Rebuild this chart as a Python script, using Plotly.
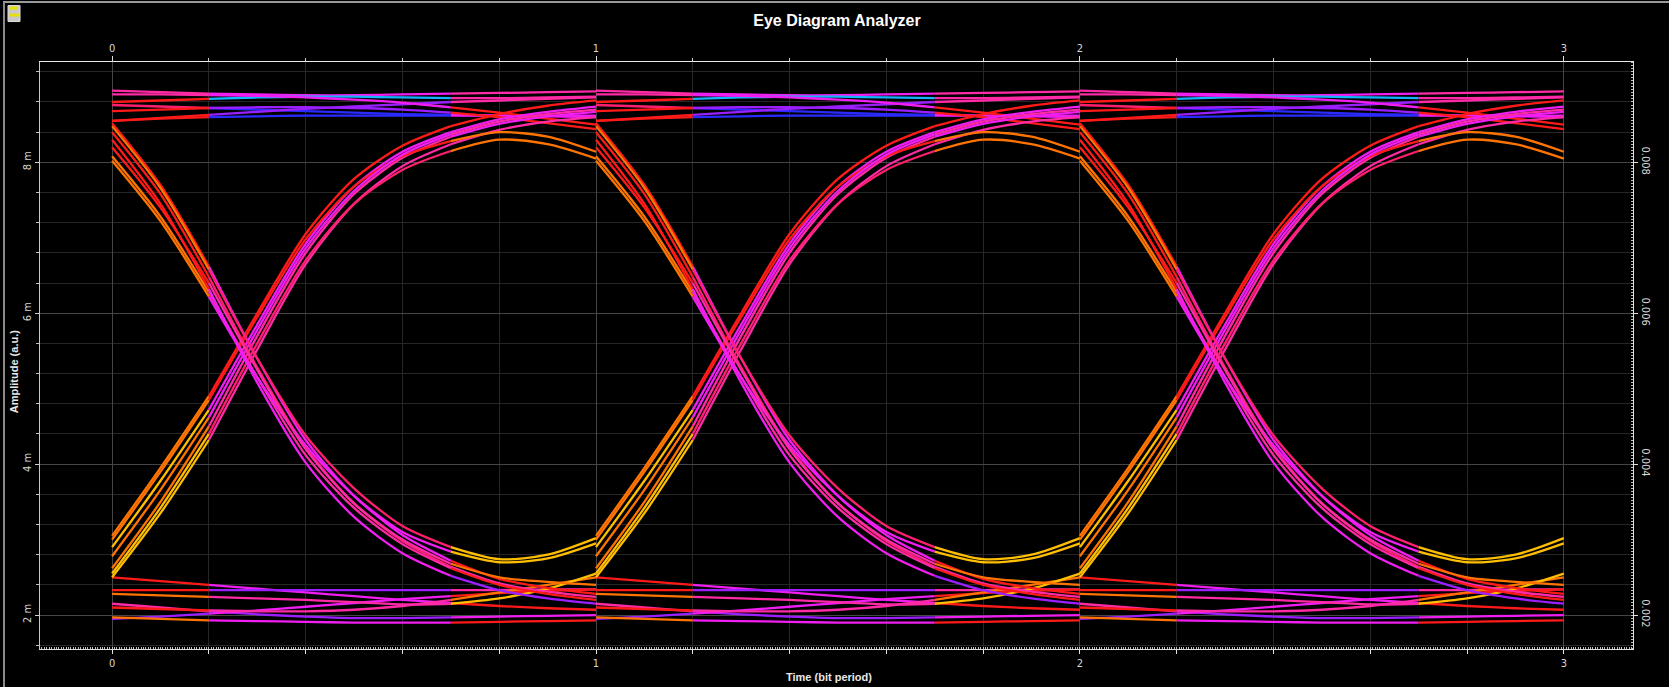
import plotly.graph_objects as go

# ---------------- data ----------------
BIT_STARTS = [0, 1, 2]                       # three bit periods shown
T = [0.0, 0.1, 0.2, 0.3, 0.4, 0.5, 0.6, 0.7, 0.8, 0.9, 1.0]   # sample positions inside one bit period

# amplitude (in "m" units) of each trace family at the sample positions
RISE_1 = [3.05, 3.95, 4.90, 6.00, 7.05, 7.78, 8.22, 8.48, 8.64, 8.75, 8.82]
RISE_2 = [2.90, 3.78, 4.72, 5.85, 6.92, 7.68, 8.14, 8.40, 8.57, 8.67, 8.74]
RISE_3 = [2.62, 3.50, 4.50, 5.70, 6.80, 7.58, 8.06, 8.34, 8.51, 8.61, 8.67]
RISE_4 = [2.50, 3.35, 4.32, 5.52, 6.65, 7.45, 7.95, 8.24, 8.43, 8.54, 8.60]
RISE_5 = [3.00, 3.90, 4.85, 5.95, 6.98, 7.68, 8.08, 8.28, 8.40, 8.34, 8.14]
RISE_6 = [2.55, 3.42, 4.40, 5.60, 6.70, 7.45, 7.90, 8.15, 8.30, 8.24, 8.05]
RISE_7 = [2.78, 3.66, 4.62, 5.78, 6.86, 7.62, 8.10, 8.37, 8.54, 8.64, 8.70]

FALL_1 = [8.52, 7.70, 6.62, 5.40, 4.32, 3.58, 3.06, 2.72, 2.48, 2.36, 2.28]
FALL_2 = [8.40, 7.58, 6.48, 5.28, 4.22, 3.48, 2.98, 2.64, 2.42, 2.31, 2.24]
FALL_3 = [8.08, 7.28, 6.28, 5.15, 4.12, 3.42, 2.94, 2.62, 2.40, 2.28, 2.20]
FALL_4 = [8.48, 7.66, 6.58, 5.40, 4.38, 3.68, 3.18, 2.90, 2.74, 2.80, 3.02]
FALL_5 = [8.02, 7.22, 6.22, 5.15, 4.25, 3.58, 3.10, 2.84, 2.70, 2.75, 2.95]
FALL_6 = [8.30, 7.45, 6.32, 5.08, 4.02, 3.30, 2.82, 2.52, 2.33, 2.22, 2.15]
FALL_7 = [8.20, 7.40, 6.40, 5.25, 4.20, 3.48, 3.00, 2.68, 2.50, 2.44, 2.40]

HIGH_1 = [8.95, 8.93, 8.91, 8.90, 8.89, 8.89, 8.90, 8.91, 8.92, 8.93, 8.94]
HIGH_2 = [8.80, 8.82, 8.84, 8.86, 8.87, 8.87, 8.86, 8.85, 8.85, 8.86, 8.87]
HIGH_3 = [8.76, 8.74, 8.72, 8.70, 8.68, 8.66, 8.64, 8.63, 8.62, 8.61, 8.60]
HIGH_4 = [8.55, 8.59, 8.63, 8.67, 8.71, 8.74, 8.77, 8.80, 8.82, 8.84, 8.86]
HIGH_5 = [8.55, 8.58, 8.60, 8.61, 8.62, 8.62, 8.62, 8.62, 8.62, 8.62, 8.62]
HIGH_6 = [8.90, 8.90, 8.89, 8.88, 8.86, 8.83, 8.79, 8.73, 8.66, 8.58, 8.50]
HIGH_7 = [8.68, 8.70, 8.72, 8.73, 8.73, 8.72, 8.70, 8.66, 8.60, 8.52, 8.44]

LOW_1 = [2.50, 2.45, 2.40, 2.35, 2.30, 2.25, 2.20, 2.16, 2.12, 2.09, 2.07]
LOW_2 = [2.33, 2.33, 2.33, 2.33, 2.33, 2.33, 2.33, 2.33, 2.33, 2.34, 2.34]
LOW_3 = [2.15, 2.10, 2.05, 2.01, 1.98, 1.96, 1.96, 1.97, 1.98, 1.99, 2.00]
LOW_4 = [1.95, 1.98, 2.02, 2.06, 2.11, 2.16, 2.21, 2.25, 2.29, 2.32, 2.34]
LOW_5 = [1.97, 1.95, 1.93, 1.92, 1.91, 1.90, 1.90, 1.90, 1.91, 1.92, 1.93]
LOW_6 = [2.10, 2.08, 2.06, 2.05, 2.05, 2.07, 2.12, 2.20, 2.30, 2.40, 2.50]
LOW_7 = [2.28, 2.26, 2.24, 2.22, 2.20, 2.17, 2.14, 2.15, 2.22, 2.35, 2.55]

X_TICKS = [0, 1, 2, 3]
X_TICK_LABELS = ["0", "1", "2", "3"]
Y_TICKS = [2, 4, 6, 8]
Y_TICK_LABELS = ["2 m", "4 m", "6 m", "8 m"]
Y2_TICK_LABELS = ["0.002", "0.004", "0.006", "0.008"]

# ---------------- styles ----------------
OR, YE, RE, HP, PK, MG, PU, BL, CY = ("#ff7400", "#ffbe00", "#ff1a1a", "#ff1f6e", "#ff2aa6",
                                      "#f01ef0", "#9b1fff", "#2b2bff", "#12b4ff")

curves = [HIGH_1, HIGH_2, HIGH_3, HIGH_4, HIGH_5, HIGH_6, HIGH_7,
          LOW_1, LOW_2, LOW_3, LOW_4, LOW_5, LOW_6, LOW_7,
          RISE_1, RISE_2, RISE_3, RISE_4, RISE_5, RISE_6, RISE_7,
          FALL_1, FALL_2, FALL_3, FALL_4, FALL_5, FALL_6, FALL_7]
# colours for the three pieces of each curve (start, middle, end)
colors = [(PK, MG, PK), (RE, CY, PK), (HP, BL, MG), (RE, PU, PK), (RE, BL, MG), (PK, MG, RE), (RE, PU, RE),
          (RE, MG, RE), (RE, PU, PK), (PK, PU, MG), (PU, MG, RE), (OR, MG, RE), (RE, PK, OR), (OR, PK, YE),
          (OR, RE, RE), (YE, MG, MG), (OR, PK, MG), (YE, PK, PK), (OR, RE, OR), (YE, HP, OR), (OR, MG, PK),
          (RE, MG, RE), (RE, HP, PK), (OR, PK, RE), (OR, HP, YE), (OR, MG, YE), (RE, MG, PU), (RE, PK, OR)]
PIECES = [(0, 3), (2, 8), (7, 11)]

fig = go.Figure()
for k in BIT_STARTS:
    for vals, cols in zip(curves, colors):
        for (a, b), col in zip(PIECES, cols):
            fig.add_trace(go.Scatter(
                x=[k + t for t in T[a:b]], y=vals[a:b], mode="lines",
                line=dict(color=col, width=2.3, shape="spline", smoothing=0.8),
                hoverinfo="skip", showlegend=False))

# invisible trace to activate secondary axes
fig.add_trace(go.Scatter(x=[0], y=[0.005], xaxis="x2", yaxis="y2", mode="markers",
                         marker=dict(opacity=0), hoverinfo="skip", showlegend=False))

TICKFONT = dict(family="Liberation Sans Narrow, DejaVu Sans Condensed, Liberation Sans", size=11, color="#d6d6d6")
XR = [-0.149, 3.143]
YR = [1.55, 9.33]
GRID_MAJ = "#454545"
GRID_MIN = "#262626"

xt02 = [i * 0.2 for i in range(16)]
xt02_text = []
for v in xt02:
    r = round(v)
    xt02_text.append(X_TICK_LABELS[X_TICKS.index(r)] if abs(v - r) < 1e-9 else "")

fig.update_layout(
    width=1669, height=687,
    paper_bgcolor="black", plot_bgcolor="black",
    margin=dict(l=40, r=36, t=62, b=38),
    showlegend=False,
    title=dict(text="<b>Eye Diagram Analyzer</b>", x=0.5015, xanchor="center", y=1 - 20 / 687, yanchor="middle",
               font=dict(family="Liberation Sans, Arial", size=16, color="white")),
    xaxis=dict(range=XR, tickvals=xt02, ticktext=xt02_text,
               showgrid=False, zeroline=False, showline=True, linecolor="#e0e0e0", linewidth=1,
               ticks="outside", ticklen=4, tickcolor="#e0e0e0", tickfont=TICKFONT,
               minor=dict(dtick=0.005, ticks="inside", ticklen=2, tickcolor="#bdbdbd", showgrid=False),
               fixedrange=True),
    xaxis2=dict(range=XR, overlaying="x", side="top", anchor="y", tickvals=X_TICKS, ticktext=X_TICK_LABELS,
                showgrid=True, gridcolor=GRID_MAJ, gridwidth=1, zeroline=False, showline=True, linecolor="#e8e8e8",
                ticks="outside", ticklen=5, tickcolor="#e0e0e0", tickfont=TICKFONT,
                minor=dict(dtick=0.2, tick0=0, showgrid=True, gridcolor=GRID_MIN, ticks="outside", ticklen=3, tickcolor="#cfcfcf"),
                fixedrange=True),
    yaxis=dict(range=YR, tickvals=Y_TICKS, ticktext=Y_TICK_LABELS, tickangle=-90,
               showgrid=True, gridcolor=GRID_MAJ, zeroline=False, showline=True, linecolor="#c8c8c8",
               ticks="outside", ticklen=4, tickcolor="#d0d0d0", tickfont=TICKFONT,
               minor=dict(dtick=0.4, tick0=0, showgrid=True, gridcolor=GRID_MIN, ticks="outside", ticklen=3, tickcolor="#c0c0c0"),
               fixedrange=True),
    yaxis2=dict(range=[v / 1000 for v in YR], overlaying="y", side="right", anchor="x",
                tickvals=[v / 1000 for v in Y_TICKS], ticktext=Y2_TICK_LABELS, tickangle=90,
                showgrid=False, zeroline=False, showline=True, linecolor="#e0e0e0",
                ticks="outside", ticklen=4, tickcolor="#e0e0e0", tickfont=TICKFONT,
                minor=dict(dtick=0.00004, ticks="inside", ticklen=2, tickcolor="#bdbdbd", showgrid=False),
                fixedrange=True),
)

# axis titles
fig.add_annotation(text="<b>Time (bit period)</b>", xref="paper", yref="paper", x=0.495, y=(649 - 677) / 587.5,
                   showarrow=False, xanchor="center", yanchor="middle",
                   font=dict(family="Liberation Sans, Arial", size=11, color="#e8e8e8"))
fig.add_annotation(text="<b>Amplitude (a.u.)</b>", xref="paper", yref="paper", x=(14 - 40) / 1593, y=(649 - 372) / 587.5,
                   showarrow=False, textangle=-90, xanchor="center", yanchor="middle",
                   font=dict(family="Liberation Sans, Arial", size=11, color="#e8e8e8"))

# window frame and icon
def px(xp):
    return (xp - 40) / 1593
def py(yp):
    return (649 - yp) / 587.5

fig.add_shape(type="line", xref="paper", yref="paper", x0=px(3), x1=px(1669), y0=py(1.5), y1=py(1.5),
              line=dict(color="#9a9a9a", width=2))
fig.add_shape(type="line", xref="paper", yref="paper", x0=px(4), x1=px(4), y0=py(1.5), y1=py(687),
              line=dict(color="#8a8a8a", width=2))
fig.add_shape(type="rect", xref="paper", yref="paper", x0=px(8), x1=px(20), y0=py(5), y1=py(21),
              fillcolor="#c8c8c8", line=dict(color="#e0e0e0", width=1))
fig.add_shape(type="rect", xref="paper", yref="paper", x0=px(9), x1=px(17), y0=py(6), y1=py(9),
              fillcolor="#e8e000", line=dict(width=0))
fig.add_shape(type="rect", xref="paper", yref="paper", x0=px(9), x1=px(19), y0=py(13), y1=py(16),
              fillcolor="#e8e000", line=dict(width=0))

fig.write_html("out.html", config={"displayModeBar": False},
               post_script="document.body.style.margin='0px';")
